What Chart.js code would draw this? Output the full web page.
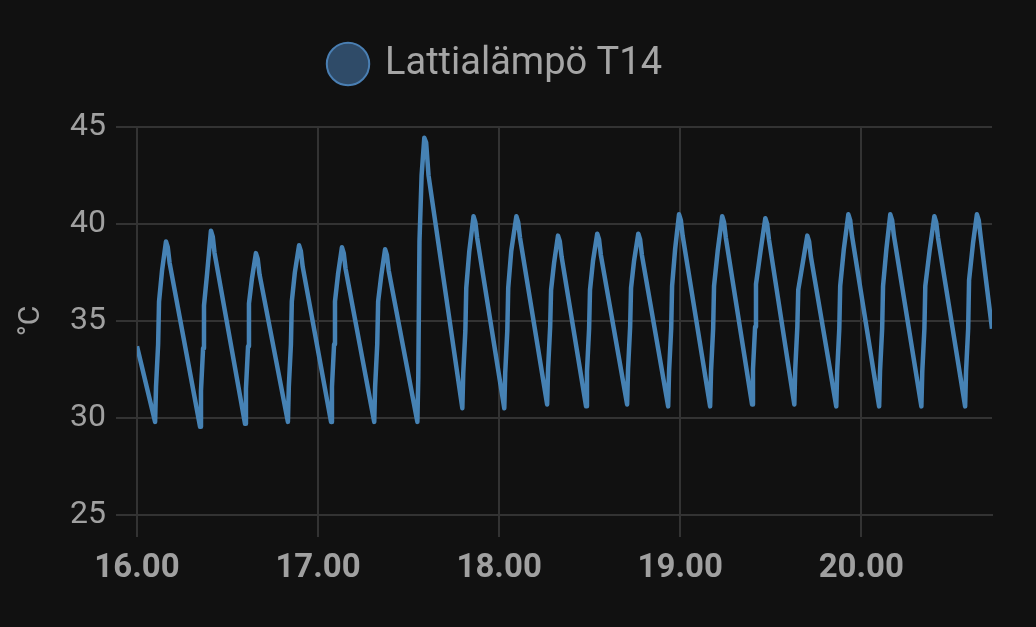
<!DOCTYPE html>
<html><head><meta charset="utf-8">
<script src="https://cdn.jsdelivr.net/npm/chart.js@4.4.1/dist/chart.umd.min.js"></script>
<style>html,body{margin:0;padding:0;background:#111111;}#wrap{width:1036px;height:627px;}</style>
</head><body><div id="wrap"><canvas id="c" width="1036" height="627"></canvas></div>
<script>
const seriesLabel = 'Lattialämpö T14';
const yTitle = '°C';
const xTickValues = [0, 60, 120, 180, 240];
const xTickLabels = ['16.00', '17.00', '18.00', '19.00', '20.00'];
const yMin = 25, yMax = 45, yStep = 5;
const xMaxMin = 283.3;

// minutes after 16.00
const timeMin = [
  0,
  6.0, 6.3, 7.0, 7.3, 8.3, 9.6, 10.2, 10.8,
  20.9, 21.2, 21.9, 22.2, 23.2, 24.5, 25.1, 25.7,
  35.8, 36.1, 36.8, 37.1, 38.1, 39.4, 40.0, 40.6,
  50.0, 50.3, 51.0, 51.3, 52.3, 53.7, 54.3, 54.9,
  64.3, 64.6, 65.3, 65.6, 66.6, 67.9, 68.5, 69.1,
  78.6, 78.9, 79.6, 79.9, 80.9, 82.2, 82.8, 83.4,
  92.9, 93.2, 93.6, 94.3, 95.2, 95.8, 96.6,
  107.8, 108.1, 108.8, 109.1, 110.1, 111.5, 112.1, 112.7,
  121.7, 122.0, 122.7, 123.0, 124.0, 125.7, 126.3, 126.9,
  135.9, 136.2, 136.9, 137.2, 138.2, 139.5, 140.1, 140.7,
  148.8, 149.1, 149.8, 150.1, 151.1, 152.5, 153.1, 153.7,
  162.4, 162.7, 163.4, 163.7, 164.7, 166.1, 166.7, 167.3,
  176.0, 176.3, 177.0, 177.3, 178.3, 179.6, 180.2, 180.8,
  189.9, 190.2, 190.9, 191.2, 192.4, 193.9, 194.5, 195.1,
  203.8, 204.1, 204.8, 205.1, 206.6, 208.2, 208.8, 209.4,
  217.8, 218.1, 218.8, 219.1, 220.6, 222.1, 222.7, 223.3,
  231.7, 232.0, 232.7, 233.0, 234.2, 235.7, 236.3, 236.9,
  245.9, 246.2, 246.9, 247.2, 248.3, 249.6, 250.2, 250.8,
  259.9, 260.2, 260.9, 261.2, 262.6, 264.2, 264.8, 265.4,
  274.4, 274.7, 275.4, 275.7, 277.0, 278.3, 278.9, 279.5,
  283.3
];
const tempC = [
  33.7,
  29.8, 31.6, 33.8, 36.0, 37.6, 39.1, 38.8, 38.0,
  29.55, 31.4, 33.6, 35.8, 37.4, 39.65, 39.35, 38.5,
  29.7, 31.5, 33.7, 35.9, 37.2, 38.5, 38.2, 37.4,
  29.8, 31.6, 33.8, 36.0, 37.5, 38.9, 38.6, 37.8,
  29.8, 31.6, 33.8, 36.0, 37.4, 38.8, 38.5, 37.7,
  29.8, 31.6, 33.8, 36.0, 37.3, 38.7, 38.4, 37.6,
  29.8, 32.1, 39.1, 42.5, 44.45, 44.2, 42.5,
  30.5, 32.3, 34.5, 36.7, 38.6, 40.4, 40.1, 39.3,
  30.5, 32.3, 34.5, 36.7, 38.6, 40.4, 40.1, 39.3,
  30.7, 32.5, 34.7, 36.6, 38.0, 39.4, 39.1, 38.3,
  30.6, 32.4, 34.6, 36.6, 38.1, 39.5, 39.2, 38.4,
  30.7, 32.5, 34.7, 36.7, 38.1, 39.5, 39.2, 38.4,
  30.6, 32.4, 34.6, 36.8, 38.7, 40.5, 40.2, 39.4,
  30.6, 32.4, 34.6, 36.8, 38.6, 40.4, 40.1, 39.3,
  30.7, 32.5, 34.7, 36.9, 38.6, 40.3, 40.0, 39.2,
  30.7, 32.5, 34.7, 36.6, 38.0, 39.4, 39.1, 38.3,
  30.6, 32.4, 34.6, 36.8, 38.7, 40.5, 40.2, 39.4,
  30.6, 32.4, 34.6, 36.8, 38.7, 40.5, 40.2, 39.4,
  30.6, 32.4, 34.6, 36.8, 38.6, 40.4, 40.1, 39.3,
  30.6, 32.4, 34.6, 37.1, 39.0, 40.5, 40.2, 39.4,
  34.6
];

const points = timeMin.map((t, i) => ({ x: t, y: tempC[i] }));

const LINE = '#4682b4';
const GRID = '#333333';
const TXT = '#a0a0a0';
const FONT = 'Roboto';

const legendFit = {
  id: 'legendFit',
  beforeInit(chart) {
    const lg = chart.legend;
    if (!lg) return;
    const f = lg.fit.bind(lg);
    lg.fit = function () { f(); this.height = 127; };
  }
};

new Chart(document.getElementById('c'), {
  type: 'line',
  data: {
    datasets: [{
      label: seriesLabel,
      data: points,
      borderColor: LINE,
      backgroundColor: 'rgba(70,130,180,0.5)',
      borderWidth: 4.5,
      pointRadius: 0,
      tension: 0,
      borderJoinStyle: 'round',
      fill: false
    }]
  },
  options: {
    responsive: false,
    animation: false,
    devicePixelRatio: 1,
    layout: { padding: { left: 0, right: 44, top: 0, bottom: 0 } },
    plugins: {
      legend: {
        position: 'top',
        labels: {
          usePointStyle: true,
          boxWidth: 36,
          boxHeight: 30,
          padding: 45,
          color: TXT,
          font: { family: FONT, size: 38 },
          generateLabels: (chart) => [{
            text: seriesLabel,
            fillStyle: '#2f4b68',
            strokeStyle: '#4a7fb3',
            lineWidth: 2,
            pointStyle: 'circle',
            fontColor: '#a5a5a5',
            datasetIndex: 0,
            hidden: false
          }]
        }
      },
      tooltip: { enabled: false }
    },
    scales: {
      x: {
        type: 'linear',
        min: 0,
        max: xMaxMin,
        afterFit(scale) { scale.height = 112; },
        afterBuildTicks(scale) { scale.ticks = xTickValues.map(v => ({ value: v })); },
        grid: { color: GRID, lineWidth: 2, tickLength: 22, drawTicks: true },
        border: { display: true, color: GRID, width: 2 },
        ticks: {
          color: TXT,
          padding: 12,
          maxRotation: 0,
          autoSkip: false,
          font: { family: FONT, size: 33, weight: 'bold' },
          callback: (v) => { const i = xTickValues.indexOf(v); return i >= 0 ? xTickLabels[i] : ''; }
        }
      },
      y: {
        min: yMin,
        max: yMax,
        afterFit(scale) { scale.width = 137; },
        grid: { color: GRID, lineWidth: 2, tickLength: 21 },
        border: { display: true, color: GRID, width: 2 },
        title: {
          display: true,
          text: yTitle,
          color: TXT,
          font: { family: FONT, size: 30 },
          padding: { top: 13, bottom: 0 }
        },
        ticks: {
          stepSize: yStep,
          color: TXT,
          padding: 10,
          font: { family: FONT, size: 32 }
        }
      }
    }
  },
  plugins: [legendFit]
});
</script>
</body></html>
